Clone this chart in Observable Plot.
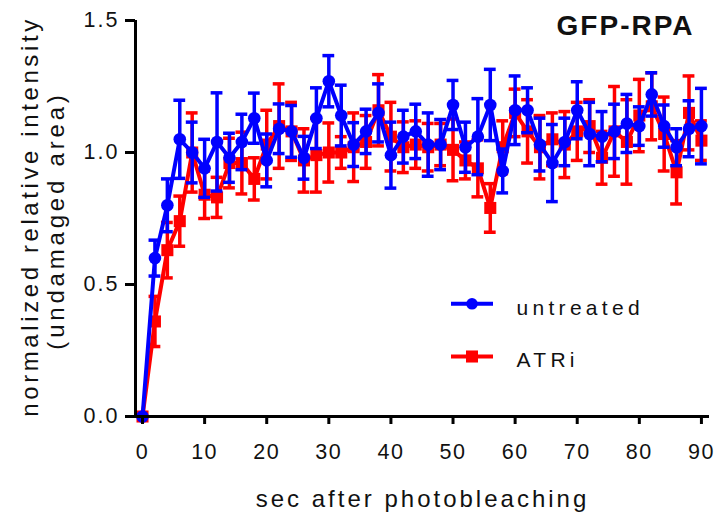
<!DOCTYPE html>
<html><head><meta charset="utf-8">
<script src="https://cdn.jsdelivr.net/npm/d3@7"></script>
<script src="https://cdn.jsdelivr.net/npm/@observablehq/plot@0.6"></script>
<style>
body{margin:0;background:#fff;}
svg text{font-family:"Liberation Sans",Arial,Helvetica,sans-serif;fill:#111;}
g[aria-label="x-axis tick label"] text{font-size:21.5px;letter-spacing:1.5px;}
g[aria-label="y-axis tick label"] text{font-size:21.5px;letter-spacing:2px;}
g[aria-label="x-axis tick"], g[aria-label="y-axis tick"]{stroke-width:3px;stroke:#000;}
</style></head>
<body><div id="chart"></div>
<script>
// time points (sec after photobleaching)
const times = [0,2,4,6,8,10,12,14,16,18,20,22,24,26,28,30,32,34,36,38,40,42,44,46,48,50,52,54,56,58,60,62,64,66,68,70,72,74,76,78,80,82,84,86,88,90];
// untreated (blue)
const untreatedMean = [0,0.60,0.80,1.05,1.00,0.94,1.04,0.98,1.04,1.13,0.97,1.09,1.08,0.98,1.13,1.27,1.14,1.03,1.08,1.15,0.99,1.06,1.08,1.03,1.03,1.18,1.02,1.06,1.18,0.93,1.16,1.16,1.03,0.96,1.04,1.16,1.07,1.06,1.08,1.11,1.10,1.22,1.10,1.02,1.09,1.10];
const untreatedErr = [0,0.068,0.10,0.148,0.115,0.11,0.186,0.093,0.105,0.095,0.10,0.094,0.098,0.081,0.115,0.097,0.115,0.083,0.084,0.11,0.125,0.10,0.103,0.12,0.095,0.093,0.095,0.144,0.135,0.083,0.13,0.085,0.10,0.146,0.09,0.108,0.12,0.095,0.103,0.11,0.073,0.082,0.08,0.07,0.106,0.143];
// ATRi (red)
const atriMean = [0,0.36,0.63,0.74,1.00,0.84,0.83,0.96,0.96,0.90,1.03,1.10,1.08,0.97,0.99,1.00,1.00,1.02,1.04,1.16,1.06,1.02,1.03,1.02,1.03,1.01,0.97,0.94,0.79,1.02,1.15,1.08,1.02,1.05,1.03,1.08,1.10,0.98,1.08,1.04,1.14,1.175,1.07,0.925,1.15,1.045];
const atriErr = [0,0.095,0.105,0.095,0.15,0.09,0.076,0.094,0.117,0.08,0.13,0.16,0.11,0.12,0.14,0.112,0.06,0.13,0.10,0.135,0.13,0.096,0.09,0.09,0.08,0.117,0.07,0.108,0.092,0.10,0.09,0.12,0.12,0.10,0.125,0.11,0.10,0.10,0.17,0.16,0.137,0.127,0.14,0.12,0.14,0.075];
// ticks & labels
const xTicks = [0,10,20,30,40,50,60,70,80,90];
const yTicks = [0,0.5,1.0,1.5];
const seriesNames = ["untreated","ATRi"];
const seriesColors = ["#0000ff","#ff0000"];
const titleText = "GFP-RPA";
const xLabel = "sec after photobleaching";
const yLabel1 = "normalized relative intensity";
const yLabel2 = "(undamaged area)";

const untreated = times.map((t,i)=>({t, v: untreatedMean[i], e: untreatedErr[i]}));
const atri = times.map((t,i)=>({t, v: atriMean[i], e: atriErr[i]}));

const xDomain = [-1.13, 91.3];
const capHalf = 0.95;
const hline = {draw(ctx){ctx.moveTo(-21,0); ctx.lineTo(21,0);}};

function seriesMarks(data, color, symbol, r){
  return [
    Plot.line(data,{x:"t",y:"v",stroke:color,strokeWidth:4}),
    Plot.ruleX(data.filter(d=>d.e>0),{x:"t",y1:d=>d.v-d.e,y2:d=>d.v+d.e,stroke:color,strokeWidth:3.5}),
    Plot.ruleY(data.filter(d=>d.e>0),{y:d=>d.v+d.e,x1:d=>d.t-capHalf,x2:d=>d.t+capHalf,stroke:color,strokeWidth:3.5}),
    Plot.ruleY(data.filter(d=>d.e>0),{y:d=>d.v-d.e,x1:d=>d.t-capHalf,x2:d=>d.t+capHalf,stroke:color,strokeWidth:3.5}),
    Plot.dot(data,{x:"t",y:"v",fill:color,symbol,r})
  ];
}

const chart = Plot.plot({
  width:715, height:514,
  marginLeft:135, marginRight:6, marginTop:20, marginBottom:98,
  x:{domain:xDomain},
  y:{domain:[0,1.5]},
  style:{background:"#fff", fontFamily:"Liberation Sans, Arial, sans-serif"},
  marks:[
    ...seriesMarks(atri, seriesColors[1], "square", 6.8),
    ...seriesMarks(untreated, seriesColors[0], "circle", 6.3),
    Plot.ruleY([0],{stroke:"#000",strokeWidth:3}),
    Plot.ruleX([xDomain[0]],{stroke:"#000",strokeWidth:3}),
    Plot.axisX({ticks:xTicks, tickSize:8, tickPadding:19, tickFormat:d=>String(d), label:null}),
    Plot.axisY({ticks:yTicks, tickSize:10, tickPadding:6, tickFormat:d3.format(".1f"), label:null}),
    Plot.text([xLabel],{text:d=>d, frameAnchor:"bottom", dy:83, lineAnchor:"middle", fontSize:24}),
    Plot.text([yLabel1],{text:d=>d, frameAnchor:"left", textAnchor:"middle", rotate:-90, dx:-105, dy:-2, lineAnchor:"middle", fontSize:24}),
    Plot.text([yLabel2],{text:d=>d, frameAnchor:"left", textAnchor:"middle", rotate:-90, dx:-79, dy:2, lineAnchor:"middle", fontSize:24}),
    Plot.text([titleText],{text:d=>d, frameAnchor:"top-right", textAnchor:"end", dx:-15, dy:6, lineAnchor:"middle", fontSize:28, fontWeight:"bold", fill:"#000"}),
    // legend
    Plot.dot([seriesNames[0]],{frameAnchor:"top-left", dx:336.5, dy:283.3, symbol:hline, stroke:seriesColors[0], strokeWidth:4, fill:"none"}),
    Plot.dot([seriesNames[0]],{frameAnchor:"top-left", dx:336.5, dy:283.3, symbol:"circle", r:5.8, fill:seriesColors[0]}),
    Plot.dot([seriesNames[1]],{frameAnchor:"top-left", dx:336.5, dy:336, symbol:hline, stroke:seriesColors[1], strokeWidth:4, fill:"none"}),
    Plot.dot([seriesNames[1]],{frameAnchor:"top-left", dx:336.5, dy:336, symbol:"square", r:6.8, fill:seriesColors[1]}),
    Plot.text([seriesNames[0]],{text:d=>d, frameAnchor:"top-left", textAnchor:"start", dx:381, dy:287.6, lineAnchor:"middle", fontSize:21}),
    Plot.text([seriesNames[1]],{text:d=>d, frameAnchor:"top-left", textAnchor:"start", dx:381, dy:340, lineAnchor:"middle", fontSize:21})
  ]
});
// letter spacing per text (Plot has no letterSpacing option)
const spacing = new Map([[xLabel,"3px"],[yLabel1,"3.6px"],[yLabel2,"3.8px"],[titleText,"2px"],[seriesNames[0],"4.3px"],[seriesNames[1],"4.3px"]]);
d3.select(chart).selectAll("text").each(function(){
  const s = spacing.get(this.textContent);
  if (s) this.style.letterSpacing = s;
});
document.getElementById("chart").appendChild(chart);
</script>
</body></html>
